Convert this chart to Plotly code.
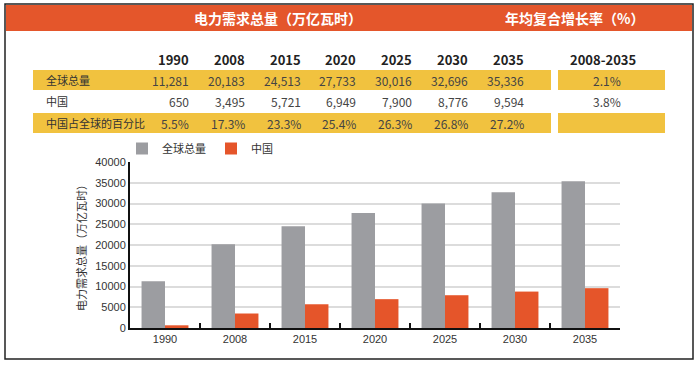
import plotly.graph_objects as go

# ---------------- data ----------------
years = ["1990", "2008", "2015", "2020", "2025", "2030", "2035"]
world = [11281, 20183, 24513, 27733, 30016, 32696, 35336]
china = [650, 3495, 5721, 6949, 7900, 8776, 9594]
share = ["5.5%", "17.3%", "23.3%", "25.4%", "26.3%", "26.8%", "27.2%"]
row_labels = ["全球总量", "中国", "中国占全球的百分比"]
cagr_period = "2008-2035"
cagr = ["2.1%", "3.8%", ""]
title_left = "电力需求总量（万亿瓦时）"
title_right = "年均复合增长率（%）"
yaxis_title = "电力需求总量（万亿瓦时）"

# ---------------- layout geometry (pixels) ----------------
W, H = 697, 389
PL, PR, PT, PB = 130, 620, 162, 328  # plot area


def px(x):
    return (x - PL) / (PR - PL)


def py(y):
    return (PB - y) / (PB - PT)


GRAY = "#9C9DA1"
ORANGE = "#E5552A"
HEAD = "#E4562B"
YELLOW = "#F1C23F"
CJK = "Noto Sans CJK SC"
NARROW = "Liberation Sans Narrow, " + CJK

fig = go.Figure()
fig.add_bar(x=years, y=world, name="全球总量", marker_color=GRAY, marker_line_width=0)
fig.add_bar(x=years, y=china, name="中国", marker_color=ORANGE, marker_line_width=0)

shapes = []
ann = []

# outer border
shapes.append(dict(type="rect", xref="paper", yref="paper", x0=px(5), x1=px(693), y0=py(4), y1=py(359),
                   line=dict(color="#222", width=1.5), fillcolor="rgba(0,0,0,0)", layer="below"))
# orange header band
shapes.append(dict(type="rect", xref="paper", yref="paper", x0=px(6), x1=px(692), y0=py(5), y1=py(31),
                   line=dict(width=0), fillcolor=HEAD, layer="below"))
ann.append(dict(text="<b>" + title_left + "</b>", x=px(278), y=py(18),
                font=dict(color="white", size=14, family=NARROW)))
ann.append(dict(text="<b>" + title_right + "</b>", x=px(574), y=py(18),
                font=dict(color="white", size=14, family=NARROW)))

# yellow bands for rows 1 and 3
row_y = [80, 101, 123]
for r in (0, 2):
    yc = row_y[r]
    for (a, b) in ((33, 551), (558, 665)):
        shapes.append(dict(type="rect", xref="paper", yref="paper", x0=px(a), x1=px(b),
                           y0=py(yc - 10), y1=py(yc + 10), line=dict(width=0), fillcolor=YELLOW, layer="below"))

col_right = [191 + i * 55.8 for i in range(len(years))]
cagr_x = 607

# header row
for i, yr in enumerate(years):
    ann.append(dict(text="<b>" + yr + "</b>", x=px(col_right[i]), y=py(60), xanchor="right",
                    font=dict(size=13, color="#222", family=NARROW)))
ann.append(dict(text="<b>" + cagr_period + "</b>", x=px(603), y=py(60),
                font=dict(size=13, color="#222", family=NARROW)))

rows = [[f"{v:,}" for v in world], [f"{v:,}" for v in china], share]
for r, lab in enumerate(row_labels):
    ann.append(dict(text=lab, x=px(44), y=py(row_y[r]), xanchor="left",
                    font=dict(size=11, color="#333", family=CJK)))
    for i, t in enumerate(rows[r]):
        ann.append(dict(text=t, x=px(col_right[i]), y=py(row_y[r]), xanchor="right",
                        font=dict(size=12, color="#444", family=NARROW)))
    if cagr[r]:
        ann.append(dict(text=cagr[r], x=px(cagr_x), y=py(row_y[r]),
                        font=dict(size=12, color="#444", family=NARROW)))

for a in ann:
    a.setdefault("xref", "paper")
    a.setdefault("yref", "paper")
    a.setdefault("showarrow", False)
    a.setdefault("yanchor", "middle")
    a.setdefault("xanchor", "center")

fig.update_layout(
    width=W, height=H,
    margin=dict(l=PL, r=W - PR, t=PT, b=H - PB),
    paper_bgcolor="white", plot_bgcolor="white",
    barmode="group", bargap=0.33, bargroupgap=0.0,
    font=dict(family="Liberation Sans, " + CJK, size=11, color="#333"),
    shapes=shapes, annotations=ann,
    legend=dict(orientation="h", x=px(122), y=py(134), xanchor="left", yanchor="top",
                font=dict(size=11, family=CJK, color="#333"), itemwidth=30,
                bgcolor="rgba(0,0,0,0)"),
    showlegend=True,
)
fig.update_xaxes(showline=True, linecolor="#111", linewidth=2, ticks="inside", tickson="boundaries",
                 ticklen=5, tickwidth=2, tickcolor="#111", showgrid=False,
                 tickfont=dict(size=11, color="#333"))
fig.update_yaxes(range=[0, 40000], dtick=5000, tickformat="d", showline=True, linecolor="#111", linewidth=2,
                 showgrid=True, gridcolor="#DCDCDC", gridwidth=2, ticks="", zeroline=False,
                 tickfont=dict(size=11, color="#333"),
                 title=dict(text=yaxis_title, font=dict(size=11, family=CJK, color="#333"), standoff=6))

fig.write_html("out.html", config={"displayModeBar": False},
               post_script="document.body.style.margin='0';")
